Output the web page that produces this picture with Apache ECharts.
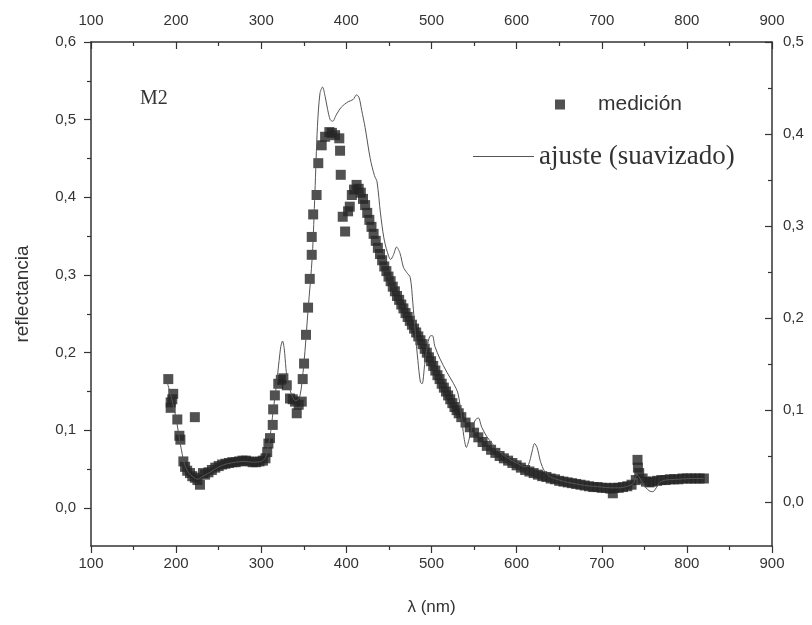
<!DOCTYPE html>
<html>
<head>
<meta charset="utf-8">
<script src="https://cdn.jsdelivr.net/npm/echarts@6/dist/echarts.min.js"></script>
<style>html,body{margin:0;padding:0;background:#fff}#c{width:812px;height:625px}</style>
</head>
<body>
<div id="c"></div>
<script>
// x-axis tick labels (both top and bottom)
const xTicks = [100, 200, 300, 400, 500, 600, 700, 800, 900];
// left axis tick labels, right axis tick labels
const leftTicks = [0.0, 0.1, 0.2, 0.3, 0.4, 0.5, 0.6];
const rightTicks = [0.0, 0.1, 0.2, 0.3, 0.4, 0.5];

// "medición" (measured points)
const measX = [190.8,193.6,193.6,195.5,196.6,201.4,203.8,205,208.5,210.5,213,216.3,219,222,222,225,228,231.6,234,238,242,246,250,254,258,262,266,270,274,278,282,286,290,294,298,302,305,307,308.4,310.3,313.5,314,316,320,323,326,330,333.8,337,339.7,341.7,344,347.6,348.7,350.3,352.6,355,357,359.3,359.3,361,365,367,371,375,380,383,386.7,391.7,392.6,393.4,395.7,398.5,402,404,406.4,409,
412,414.5,417,419.5,422,424.5,427,429.5,432,434.5,437,439.5,442,444.5,447,449.5,452,454.5,457,459.5,462,464.5,467,469.5,472,474.5,477,479.5,482,484.5,487,489.5,492,494.5,497,499.5,502,504.5,507,509.5,512,514.5,517,519.5,522,524.5,527,529.5,532,
535,540,545,550,555,560,565,570,575,580,585,590,595,600,605,610,615,620,625,630,635,640,645,650,655,660,665,670,675,680,685,690,695,700,705,710,713,715,720,725,730,735,740,742,742.5,744,748,752,756,760,765,770,775,780,785,790,795,800,805,810,815,820];
const measY = [0.166,0.136,0.129,0.140,0.147,0.114,0.093,0.088,0.060,0.053,0.048,0.045,0.041,0.117,0.039,0.036,0.030,0.045,0.043,0.046,0.049,0.052,0.054,0.056,0.057,0.058,0.059,0.059,0.060,0.061,0.061,0.060,0.059,0.059,0.060,0.061,0.064,0.072,0.083,0.090,0.107,0.127,0.145,0.160,0.165,0.167,0.158,0.141,0.140,0.137,0.122,0.133,0.137,0.166,0.186,0.223,0.258,0.295,0.326,0.349,0.378,0.403,0.444,0.467,0.478,0.484,0.483,0.480,0.476,0.460,0.429,0.375,0.356,0.382,0.388,0.403,0.410,
0.416,0.411,0.406,0.398,0.390,0.380,0.371,0.362,0.353,0.344,0.335,0.327,0.319,0.311,0.305,0.298,0.292,0.285,0.279,0.273,0.268,0.262,0.257,0.251,0.246,0.241,0.236,0.231,0.226,0.221,0.216,0.211,0.205,0.200,0.194,0.189,0.183,0.177,0.171,0.166,0.160,0.155,0.150,0.145,0.140,0.135,0.130,0.126,0.122,
0.117,0.110,0.104,0.097,0.091,0.085,0.080,0.075,0.071,0.067,0.064,0.061,0.058,0.055,0.052,0.049,0.047,0.045,0.043,0.041,0.040,0.038,0.037,0.035,0.034,0.033,0.032,0.031,0.030,0.029,0.028,0.027,0.027,0.026,0.026,0.025,0.019,0.026,0.026,0.027,0.028,0.030,0.036,0.062,0.052,0.045,0.038,0.034,0.033,0.034,0.035,0.036,0.036,0.037,0.037,0.037,0.038,0.038,0.038,0.038,0.038,0.038];

// "ajuste (suavizado)" (smoothed fit)
const fitX = [190,195,200,205,210,215,220,225,230,240,250,260,270,280,290,300,305,310,314,318,321,323,325,327,329,331,335,340,345,350,355,360,363,366,369,372,375,378,381,384,388,394,402,408,412,415,418,422,428,433,436,440,444,448,452,455,459,463,467,471,475,478,481,484,487,489,492,495,498,501,504,510,518,526,531,535,538,541,544,548,552,555,559,565,572,580,590,600,610,614,618,621,624,628,633,640,650,660,670,680,690,700,710,720,730,737,741,744,748,752,756,760,764,768,775,790,805,820];
const fitY = [0.160,0.140,0.115,0.082,0.056,0.045,0.040,0.037,0.040,0.046,0.053,0.057,0.059,0.060,0.059,0.060,0.065,0.090,0.125,0.160,0.190,0.208,0.215,0.205,0.180,0.162,0.148,0.138,0.142,0.185,0.255,0.325,0.405,0.491,0.534,0.542,0.530,0.513,0.500,0.498,0.506,0.516,0.523,0.526,0.532,0.528,0.512,0.490,0.450,0.428,0.420,0.380,0.348,0.330,0.320,0.325,0.336,0.328,0.310,0.303,0.297,0.265,0.225,0.190,0.162,0.160,0.185,0.208,0.221,0.222,0.208,0.192,0.175,0.160,0.148,0.120,0.092,0.078,0.088,0.105,0.114,0.116,0.104,0.092,0.082,0.072,0.064,0.058,0.053,0.056,0.072,0.083,0.078,0.060,0.047,0.040,0.036,0.033,0.031,0.029,0.028,0.027,0.026,0.026,0.028,0.032,0.042,0.040,0.032,0.026,0.022,0.021,0.026,0.033,0.036,0.037,0.038,0.038];

const INK = '#333';
const SANS = 'Liberation Sans, Arial, sans-serif';
const SERIF = 'Liberation Serif, Times New Roman, serif';
const fmt = v => v.toFixed(1).replace('.', ',');
const G = {left: 91, right: 40, top: 42};
const chart = echarts.init(document.getElementById('c'));
const lineStyle = {color: INK, width: 1.5};
const tickStyle = {color: INK, width: 1.2};
const labelStyle = {color: INK, fontSize: 15, fontFamily: SANS};

chart.setOption({
  animation: false,
  backgroundColor: '#fff',
  title: {text: 'M2', left: 135, top: 84, textStyle: {fontFamily: SERIF, fontWeight: 'normal', fontSize: 20, color: INK}},
  legend: [
    {data: [{name: 'medición', icon: 'rect'}], left: 550, top: 89, itemWidth: 10, itemHeight: 10,
     textStyle: {fontFamily: SANS, fontSize: 21, color: INK, padding: [0, 0, 0, 28]}},
    {data: [{name: 'ajuste (suavizado)', icon: 'path://M0,0h60v1h-60z'}], left: 468, top: 138, itemWidth: 61, itemHeight: 14,
     textStyle: {fontFamily: SERIF, fontSize: 27, color: INK}}
  ],
  grid: [
    {left: G.left, right: G.right, top: G.top, bottom: 79},
    {left: G.left, right: G.right, top: G.top, bottom: 625 - 508},
    {left: G.left, right: G.right, top: G.top, bottom: 625 - 502}
  ],
  xAxis: [
    {gridIndex: 0, type: 'value', position: 'bottom', min: xTicks[0], max: xTicks[xTicks.length - 1], interval: 100,
     name: 'λ (nm)', nameLocation: 'middle', nameGap: 53, nameTextStyle: {color: INK, fontSize: 17, fontFamily: SANS},
     axisLine: {onZero: false, lineStyle}, axisTick: {length: 7, lineStyle: tickStyle}, minorTick: {show: true, splitNumber: 2, length: 4, lineStyle: tickStyle},
     axisLabel: Object.assign({margin: 10}, labelStyle), splitLine: {show: false}},
    {gridIndex: 0, type: 'value', position: 'top', min: xTicks[0], max: xTicks[xTicks.length - 1], interval: 100,
     axisLine: {onZero: false, lineStyle}, axisTick: {inside: true, length: 7, lineStyle: tickStyle}, minorTick: {show: true, splitNumber: 2, length: 4, lineStyle: tickStyle},
     axisLabel: Object.assign({margin: 14}, labelStyle), splitLine: {show: false}},
    {gridIndex: 1, type: 'value', show: false, min: 100, max: 900, axisLine: {onZero: false}},
    {gridIndex: 2, type: 'value', show: false, min: 100, max: 900, axisLine: {onZero: false}}
  ],
  yAxis: [
    {gridIndex: 0, type: 'value', position: 'left', min: -0.0489, max: 0.6,
     name: 'reflectancia', nameLocation: 'middle', nameGap: 59, nameTextStyle: {color: INK, fontSize: 19, fontFamily: SANS},
     axisLine: {show: true, onZero: false, lineStyle}, axisTick: {show: false}, axisLabel: {show: false}, splitLine: {show: false}},
    {gridIndex: 0, type: 'value', position: 'right', min: -0.0489, max: 0.6,
     axisLine: {show: true, onZero: false, lineStyle}, axisTick: {show: false}, axisLabel: {show: false}, splitLine: {show: false}},
    {gridIndex: 1, type: 'value', position: 'left', min: leftTicks[0], max: leftTicks[leftTicks.length - 1], interval: 0.1,
     axisLine: {show: false, onZero: false}, axisTick: {show: true, length: 7, lineStyle: tickStyle}, minorTick: {show: true, splitNumber: 2, length: 4, lineStyle: tickStyle},
     axisLabel: Object.assign({margin: 15, formatter: fmt}, labelStyle), splitLine: {show: false}},
    {gridIndex: 2, type: 'value', position: 'right', min: rightTicks[0], max: rightTicks[rightTicks.length - 1], interval: 0.1,
     axisLine: {show: false, onZero: false}, axisTick: {show: true, inside: true, length: 7, lineStyle: tickStyle}, minorTick: {show: true, splitNumber: 2, length: 4, lineStyle: tickStyle},
     axisLabel: Object.assign({margin: 11, formatter: fmt}, labelStyle), splitLine: {show: false}}
  ],
  series: [
    {name: 'medición', type: 'scatter', xAxisIndex: 0, yAxisIndex: 0, symbol: 'rect', symbolSize: 10,
     itemStyle: {color: '#262626'}, data: measX.map((x, i) => [x, measY[i]]), z: 2},
    {name: 'ajuste (suavizado)', type: 'line', xAxisIndex: 0, yAxisIndex: 0, symbol: 'none', smooth: 0.3,
     lineStyle: {color: '#555', width: 1}, itemStyle: {color: '#555'}, data: fitX.map((x, i) => [x, fitY[i]]), z: 3}
  ]
});
</script>
</body>
</html>
